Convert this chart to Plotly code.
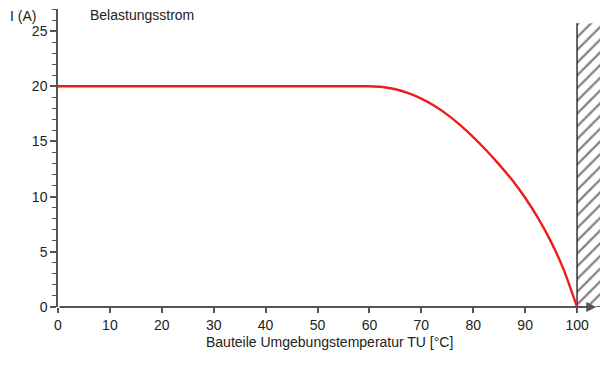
import plotly.graph_objects as go

# Data
temperature = [0, 55, 60, 62.5, 65, 67.5, 70, 72.5, 75, 77.5, 80, 82.5, 85,
               87.5, 90, 92.5, 95, 97.5, 100]
current = [20, 20, 20, 19.93, 19.73, 19.38, 18.88, 18.23, 17.43, 16.48, 15.4, 14.2, 12.9,
           11.5, 9.9, 8.05, 5.9, 3.3, 0]
x_ticks = [0, 10, 20, 30, 40, 50, 60, 70, 80, 90, 100]
y_ticks = [0, 5, 10, 15, 20, 25]
hatch_x = [100, 105, 105, 100]
hatch_y = [0, 0, 25.7, 25.7]
x_axis_end = 103.7

AXIS = "#555555"
FONT = "Liberation Sans, Arial, sans-serif"

# page body has an 8 px margin: compensate so the plot lands where the reference has it
L, T, R, B = 50, 1, 13, 86
WIDTH, HEIGHT = 608, 385
PW, PH = WIDTH - L - R, HEIGHT - T - B


def px(xf):
    return (xf - L) / PW


def py(yf):
    return (HEIGHT - B - yf) / PH


fig = go.Figure()

fig.add_trace(go.Scatter(
    x=hatch_x, y=hatch_y, mode="none", fill="toself",
    fillcolor="rgba(0,0,0,0)",
    fillpattern=dict(shape="/", fgcolor="#000000", bgcolor="white", size=9, solidity=0.25),
    hoverinfo="skip", showlegend=False,
))
fig.add_trace(go.Scatter(
    x=[hatch_x[0], hatch_x[3]], y=[hatch_y[0], hatch_y[3]], mode="lines",
    line=dict(color="#333333", width=1.5), hoverinfo="skip", showlegend=False,
))
fig.add_trace(go.Scatter(
    x=temperature, y=current, mode="lines",
    line=dict(color="#ee1c1c", width=2.4, shape="spline", smoothing=0.6),
    showlegend=False,
))

fig.update_layout(
    width=WIDTH, height=HEIGHT,
    margin=dict(l=L, r=R, t=T, b=B, autoexpand=False),
    plot_bgcolor="white", paper_bgcolor="white",
    font=dict(family=FONT, size=14, color="#222222"),
    xaxis=dict(
        range=[0, 105], tickvals=x_ticks, showgrid=False, zeroline=False,
        showline=False, automargin=False,
        ticks="outside", ticklen=5, tickwidth=1.5, tickcolor=AXIS,
        tickfont=dict(size=14),
    ),
    yaxis=dict(
        range=[0, 27], tickvals=y_ticks, showgrid=False, zeroline=False,
        showline=True, linecolor=AXIS, linewidth=1.5, automargin=False,
        ticks="outside", ticklen=6, tickwidth=1.5, tickcolor=AXIS,
        minor=dict(dtick=1, ticks="outside", ticklen=4, tickwidth=1, tickcolor=AXIS),
        tickfont=dict(size=14),
    ),
    annotations=[
        dict(text="Belastungsstrom", x=px(80), y=py(7), xref="paper", yref="paper",
             showarrow=False, xanchor="left", yanchor="middle", font=dict(size=14)),
        dict(text="I (A)", x=px(0), y=py(8), xref="paper", yref="paper",
             showarrow=False, xanchor="left", yanchor="middle", font=dict(size=14)),
        dict(text="Bauteile Umgebungstemperatur TU [°C]", x=px(321.5), y=py(334),
             xref="paper", yref="paper", showarrow=False, xanchor="center",
             yanchor="middle", font=dict(size=14)),
        dict(x=x_axis_end, y=0, ax=0, ay=0, xref="x", yref="y", axref="x", ayref="y",
             showarrow=True, arrowhead=2, arrowsize=1.0, arrowwidth=2,
             arrowcolor=AXIS, text="", standoff=0, startstandoff=0),
    ],
    shapes=[
        dict(type="line", xref="x", yref="y", x0=x_axis_end, x1=105, y0=0, y1=0,
             line=dict(color="#222222", width=1.5, dash="dot")),
    ],
)

fig.write_html("out.html")
